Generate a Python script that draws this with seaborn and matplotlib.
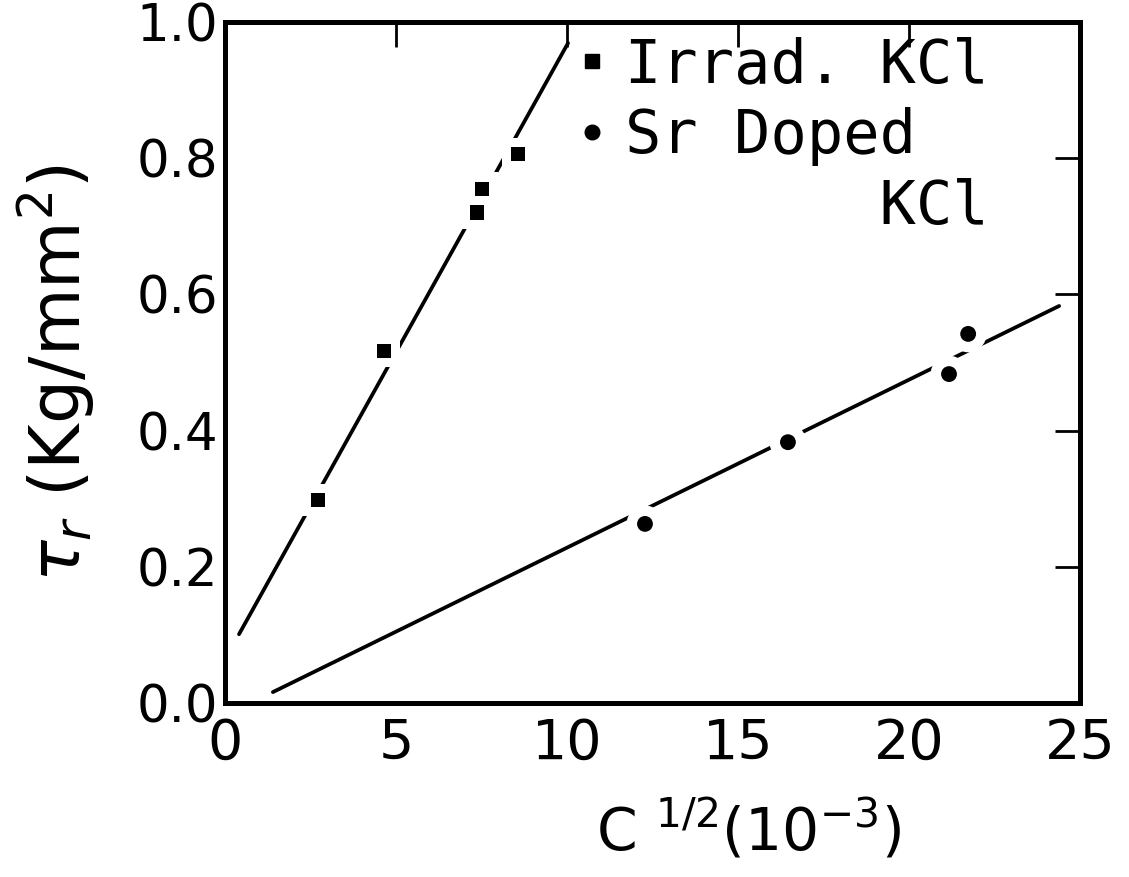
import matplotlib
matplotlib.use("Agg")
import matplotlib.pyplot as plt
import seaborn as sns
import pandas as pd
from matplotlib.lines import Line2D

# ---- data ----
irrad_x = [2.72, 4.65, 7.37, 7.51, 8.57]
irrad_y = [0.298, 0.517, 0.720, 0.755, 0.806]
sr_x = [12.28, 16.46, 21.17, 21.73]
sr_y = [0.263, 0.383, 0.483, 0.542]
irrad_fit_x = [0.41, 10.03]
irrad_fit_y = [0.101, 0.969]
sr_fit_x = [1.40, 24.39]
sr_fit_y = [0.016, 0.583]
x_ticks = [0, 5, 10, 15, 20, 25]
x_tick_labels = ["0", "5", "10", "15", "20", "25"]
y_ticks = [0.0, 0.2, 0.4, 0.6, 0.8, 1.0]
y_tick_labels = ["0.0", "0.2", "0.4", "0.6", "0.8", "1.0"]
legend_labels = ["Irrad. KCl", "Sr Doped", "       KCl"]

sns.set_style("white")
plt.rcParams["font.family"] = ["DejaVu Sans"]
plt.rcParams["mathtext.fontset"] = "dejavusans"
for k in ["text.color", "axes.labelcolor", "xtick.color", "ytick.color",
          "axes.edgecolor"]:
    plt.rcParams[k] = "black"

fig = plt.figure(figsize=(11.29, 8.77), dpi=100)
ax = fig.add_axes([225 / 1129, 1 - 703 / 877, 855 / 1129, 681 / 877])

irrad_df = pd.DataFrame({"x": irrad_x, "y": irrad_y})
sr_df = pd.DataFrame({"x": sr_x, "y": sr_y})
irrad_fit = pd.DataFrame({"x": irrad_fit_x, "y": irrad_fit_y})
sr_fit = pd.DataFrame({"x": sr_fit_x, "y": sr_fit_y})

lw = 2.7
sns.lineplot(data=irrad_fit, x="x", y="y", ax=ax, color="black", lw=lw, zorder=1)
sns.lineplot(data=sr_fit, x="x", y="y", ax=ax, color="black", lw=lw, zorder=1)

# white halos to break the lines around the points
sns.scatterplot(data=irrad_df, x="x", y="y", ax=ax, marker="s", s=560,
                color="white", edgecolor="none", zorder=2, legend=False)
sns.scatterplot(data=sr_df, x="x", y="y", ax=ax, marker="o", s=700,
                color="white", edgecolor="none", zorder=2, legend=False)
sns.scatterplot(data=irrad_df, x="x", y="y", ax=ax, marker="s", s=110,
                color="black", edgecolor="none", zorder=3, legend=False)
sns.scatterplot(data=sr_df, x="x", y="y", ax=ax, marker="o", s=130,
                color="black", edgecolor="none", zorder=3, legend=False)

ax.set_xlim(0, 25)
ax.set_ylim(0, 1.0)
ax.set_xticks(x_ticks)
ax.set_xticklabels(x_tick_labels)
ax.set_yticks(y_ticks)
ax.set_yticklabels(y_tick_labels)

for sp in ax.spines.values():
    sp.set_linewidth(3.6)
    sp.set_color("black")

ax.tick_params(axis="both", direction="in", length=18, width=2.0,
               top=True, right=True, color="black", labelcolor="black")
ax.tick_params(axis="x", labelsize=40, pad=10)
ax.tick_params(axis="y", labelsize=37, pad=5)

ax.set_xlabel(r"C $^{1/2}$(10$^{-3}$)", fontsize=42)
ax.xaxis.set_label_coords(0.612, -0.14)
ax.set_ylabel(r"$\tau_r$ (Kg/mm$^2$)", fontsize=50)
ax.yaxis.set_label_coords(-0.15, 0.485)

handles = [
    Line2D([], [], linestyle="none", marker="s", markersize=10, color="black"),
    Line2D([], [], linestyle="none", marker="o", markersize=10.5, color="black"),
    Line2D([], [], linestyle="none", marker=None),
]
leg = fig.legend(handles, legend_labels, loc="upper left",
                 bbox_to_anchor=(578 / 1129, 1 - 36 / 877),
                 frameon=False, borderpad=0, borderaxespad=0,
                 handlelength=0.45, handletextpad=0.33, labelspacing=0.2,
                 prop={"family": "DejaVu Sans Mono", "size": 43.5})

fig.savefig("out.png", dpi=100, facecolor="white")
